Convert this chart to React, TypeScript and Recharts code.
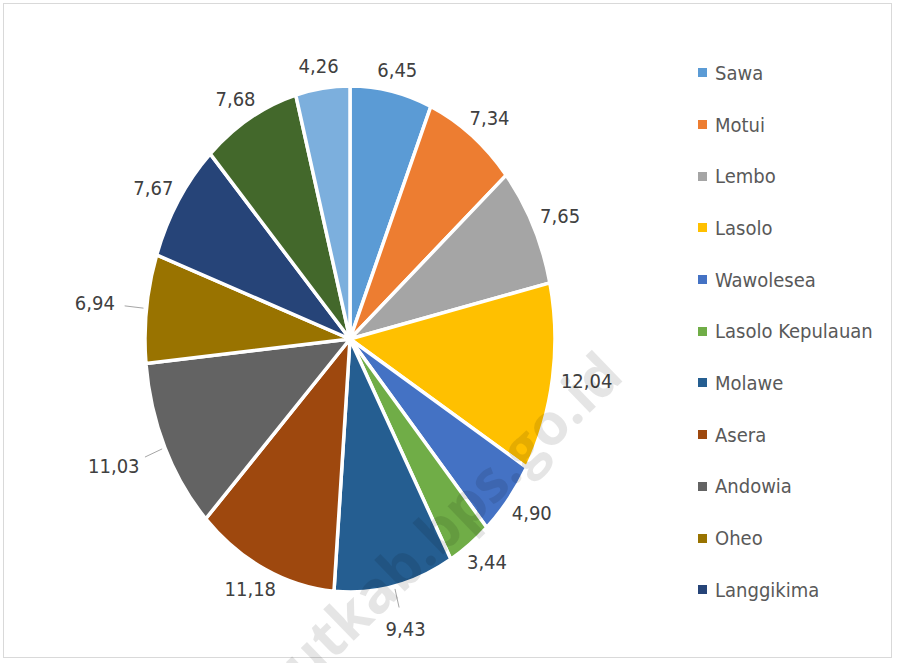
import { PieChart, Pie, Cell } from "recharts";

const NAMES = [
  "Sawa", "Motui", "Lembo", "Lasolo", "Wawolesea", "Lasolo Kepulauan", "Molawe",
  "Asera", "Andowia", "Oheo", "Langgikima", "Wiwirano", "Landawe",
];
const VALUES = [6.45, 7.34, 7.65, 12.04, 4.9, 3.44, 9.43, 11.18, 11.03, 6.94, 7.67, 7.68, 4.26];
const COLORS = [
  "#5B9BD5", "#ED7D31", "#A5A5A5", "#FFC000", "#4472C4", "#70AD47", "#255E91",
  "#9E480E", "#636363", "#997300", "#264478", "#43682B", "#7CAFDD",
];
// the legend in the source image only shows the first 11 entries
const LEGEND_COUNT = 11;
// labels Excel pushed further out and tied back with a leader line
const LEADER_LABELS = [6, 8, 9];

const FONT = '"DejaVu Sans Condensed", "Liberation Sans Narrow", "Open Sans", sans-serif';
const SQUASH = 253 / 205; // source pie is taller than it is wide
const RAD = Math.PI / 180;

const data = NAMES.map((name, i) => ({ name, value: VALUES[i] }));

const fmt = (v: number) => v.toFixed(2).replace(".", ",");

function pt(cx: number, cy: number, rx: number, ry: number, deg: number) {
  return [cx + rx * Math.cos(deg * RAD), cy - ry * Math.sin(deg * RAD)];
}

function EllipseSector(props: any) {
  const { cx, cy, outerRadius, startAngle, endAngle, fill } = props;
  const rx = outerRadius;
  const ry = outerRadius * SQUASH;
  const [x1, y1] = pt(cx, cy, rx, ry, startAngle);
  const [x2, y2] = pt(cx, cy, rx, ry, endAngle);
  const large = Math.abs(endAngle - startAngle) > 180 ? 1 : 0;
  const sweep = startAngle > endAngle ? 1 : 0;
  const d = `M${cx},${cy} L${x1},${y1} A${rx},${ry} 0 ${large} ${sweep} ${x2},${y2} Z`;
  return <path d={d} fill={fill} stroke="#fff" strokeWidth={3.5} strokeLinejoin="round" />;
}

function renderLabel(props: any) {
  const { cx, cy, outerRadius, midAngle, value, index } = props;
  const text = fmt(value);
  const w = text.length * 9;
  const leader = LEADER_LABELS.includes(index);
  const off = leader ? 34 : 12;
  const rx = outerRadius;
  const ry = outerRadius * SQUASH;
  const [x, y] = pt(cx, cy, rx + off, ry + off, midAngle);
  const tx = x + (w / 2) * Math.cos(midAngle * RAD);
  const ty = y - 10 * Math.sin(midAngle * RAD);
  const [lx1, ly1] = pt(cx, cy, rx + 3, ry + 3, midAngle);
  const [lx2, ly2] = pt(cx, cy, rx + 22, ry + 22, midAngle);
  return (
    <g>
      {leader && <line x1={lx1} y1={ly1} x2={lx2} y2={ly2} stroke="#a6a6a6" strokeWidth={1} />}
      <text x={tx} y={ty} textAnchor="middle" dominantBaseline="central"
        fill="#404040" fontSize={20} fontFamily={FONT}>
        {text}
      </text>
    </g>
  );
}

function LegendList() {
  return (
    <div style={{
      position: "absolute", left: 698, top: 47, width: 190,
      fontFamily: FONT, fontSize: 20, color: "#595959",
    }}>
      {NAMES.slice(0, LEGEND_COUNT).map((name, i) => (
        <div key={name} style={{ height: 51.7, display: "flex", alignItems: "center" }}>
          <span style={{ width: 9, height: 9, background: COLORS[i], marginRight: 8, display: "inline-block" }} />
          <span>{name}</span>
        </div>
      ))}
    </div>
  );
}

export default function App() {
  return (
    <div style={{ position: "absolute", left: 0, top: 0, width: 897, height: 663, background: "#fff", overflow: "hidden" }}>
      <div style={{
        position: "absolute", left: 3, top: 3, width: 889, height: 655,
        border: "1px solid #d9d9d9", boxSizing: "border-box",
      }} />
      <PieChart width={897} height={663}>
        <Pie
          data={data}
          dataKey="value"
          nameKey="name"
          cx={345}
          cy={334}
          outerRadius={205}
          startAngle={90}
          endAngle={-270}
          shape={EllipseSector}
          label={renderLabel}
          labelLine={false}
          isAnimationActive={false}
        >
          {data.map((d, i) => (
            <Cell key={d.name} fill={COLORS[i]} />
          ))}
        </Pie>
      </PieChart>
      <LegendList />
      <svg width={897} height={663} style={{ position: "absolute", left: 0, top: 0, pointerEvents: "none" }}>
        <text x={610} y={362} transform="rotate(-44 610 362)" textAnchor="end" dominantBaseline="central"
          fontFamily='"Open Sans", sans-serif' fontWeight="bold" fontSize={58} fill="#000" fillOpacity={0.1}>
          konutkab.bps.go.id
        </text>
      </svg>
    </div>
  );
}
